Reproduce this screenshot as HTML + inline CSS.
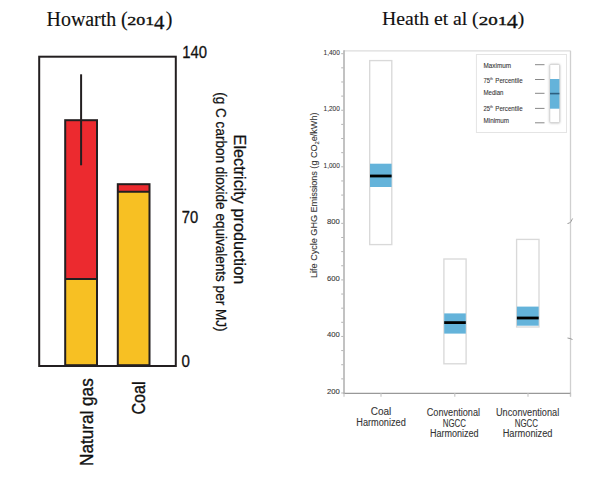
<!DOCTYPE html>
<html><head><meta charset="utf-8">
<style>
html,body{margin:0;padding:0;background:#fff;width:600px;height:482px;overflow:hidden;}
svg{display:block;}
.ser{font-family:"Liberation Serif",serif;}
.san{font-family:"Liberation Sans",sans-serif;}
</style></head>
<body>
<svg width="600" height="482" viewBox="0 0 600 482">
<!-- ===== LEFT CHART: Howarth ===== -->
<g class="ser" fill="#111" stroke="#111" stroke-width="0.15">
<text x="46.6" y="25.5" font-size="20" textLength="69.6" lengthAdjust="spacingAndGlyphs">Howarth</text>
<text x="120.9" y="25.5" font-size="20">(</text>
<text x="127.2" y="25.4" font-size="13" stroke-width="0.35" textLength="27" lengthAdjust="spacingAndGlyphs">201</text>
<text x="154.1" y="28.8" font-size="18.5" stroke-width="0.3" textLength="10.4" lengthAdjust="spacingAndGlyphs">4</text>
<text x="165.8" y="25.5" font-size="20">)</text>
</g>

<!-- bars -->
<rect x="65.2" y="279" width="31.8" height="86.6" fill="#f7c023"/>
<rect x="65.2" y="120.2" width="31.8" height="158.8" fill="#ec2a2f"/>
<rect x="117.8" y="191.7" width="31.7" height="173.9" fill="#f7c023"/>
<rect x="117.8" y="184.2" width="31.7" height="7.5" fill="#ec2a2f"/>
<g stroke="#231f20" stroke-width="2" fill="none">
  <rect x="65.2" y="120.2" width="31.8" height="245"/>
  <line x1="65.2" y1="279" x2="97" y2="279"/>
  <rect x="117.8" y="184.2" width="31.7" height="181"/>
  <line x1="117.8" y1="191.7" x2="149.5" y2="191.7"/>
  <line x1="81.1" y1="74.3" x2="81.1" y2="165.3"/>
  <rect x="39.2" y="56.7" width="136.6" height="309.3"/>
</g>
<!-- y labels -->
<g class="san" font-size="16.5" fill="#111" stroke="#111" stroke-width="0.3">
  <text x="182.3" y="57.6" textLength="24.8" lengthAdjust="spacingAndGlyphs">140</text>
  <text x="181.8" y="222.9" textLength="16.4" lengthAdjust="spacingAndGlyphs">70</text>
  <text x="181.6" y="367.4" textLength="8.4" lengthAdjust="spacingAndGlyphs">0</text>
</g>
<!-- rotated axis title -->
<g class="san" fill="#111" stroke="#111" stroke-width="0.25">
  <text transform="translate(233.7,134.6) rotate(90)" font-size="17" textLength="149.6" lengthAdjust="spacingAndGlyphs">Electricity production</text>
  <text transform="translate(215.9,92.3) rotate(90)" font-size="14" textLength="239.2" lengthAdjust="spacingAndGlyphs">(g C carbon dioxide equivalents per MJ)</text>
</g>
<!-- category labels -->
<g class="san" fill="#111" font-size="17.5" stroke="#111" stroke-width="0.35">
  <text transform="translate(93,465.9) rotate(-90)" textLength="87.6" lengthAdjust="spacingAndGlyphs">Natural gas</text>
  <text transform="translate(145,414.6) rotate(-90)" textLength="33.2" lengthAdjust="spacingAndGlyphs">Coal</text>
</g>

<!-- ===== RIGHT CHART: Heath ===== -->
<g class="ser" fill="#111" stroke="#111" stroke-width="0.15">
<text x="382" y="24.8" font-size="19.5" textLength="85.3" lengthAdjust="spacingAndGlyphs">Heath et al</text>
<text x="471.9" y="24.8" font-size="19.5">(</text>
<text x="478.8" y="24.7" font-size="13" stroke-width="0.35" textLength="28.4" lengthAdjust="spacingAndGlyphs">201</text>
<text x="506.8" y="27.9" font-size="18.5" stroke-width="0.3" textLength="11" lengthAdjust="spacingAndGlyphs">4</text>
<text x="517.7" y="24.8" font-size="19.5">)</text>
</g>

<!-- plot frame -->
<g fill="none">
  <line x1="344" y1="50.8" x2="570.5" y2="50.8" stroke="#dcdcdc" stroke-width="1.3"/>
  <line x1="570.5" y1="50.8" x2="570.5" y2="396.5" stroke="#d0d0d0" stroke-width="1.3"/>
  <line x1="344" y1="50.2" x2="344" y2="394" stroke="#a8a8a8" stroke-width="1.4"/>
  <line x1="343.3" y1="393.4" x2="571" y2="393.4" stroke="#999" stroke-width="1.3"/>
</g>

<!-- y ticks -->
<path d="M341.2 393.00H343.4M341.2 378.86H343.4M341.2 364.73H343.4M341.2 350.59H343.4M341.2 336.45H343.4M341.2 322.31H343.4M341.2 308.18H343.4M341.2 294.04H343.4M341.2 279.90H343.4M341.2 265.76H343.4M341.2 251.62H343.4M341.2 237.49H343.4M341.2 223.35H343.4M341.2 209.21H343.4M341.2 195.08H343.4M341.2 180.94H343.4M341.2 166.80H343.4M341.2 152.66H343.4M341.2 138.53H343.4M341.2 124.39H343.4M341.2 110.25H343.4M341.2 96.11H343.4M341.2 81.98H343.4M341.2 67.84H343.4M341.2 53.70H343.4" stroke="#b5b5b5" stroke-width="1" fill="none"/>
<path d="M381 393.3V396.8M454.8 393.3V396.8M528 393.3V396.8M570.5 393.3V396.8M344 393.3V396.8" stroke="#c8c8c8" stroke-width="1.2" fill="none"/>
<!-- break marks -->
<path d="M567.5 223.5 Q570 223.5 571 221.5 T572.6 218.5" stroke="#9a9a9a" stroke-width="1" fill="none"/>
<path d="M567.5 338 Q570 338.3 572.5 339.5" stroke="#9a9a9a" stroke-width="1" fill="none"/>
<!-- y labels -->
<g class="san" font-size="8" fill="#333" stroke="#444" stroke-width="0.1" text-anchor="end">
<text x="339.8" y="393.80" textLength="12.8" lengthAdjust="spacingAndGlyphs">200</text>
<text x="339.8" y="337.25" textLength="12.8" lengthAdjust="spacingAndGlyphs">400</text>
<text x="339.8" y="280.70" textLength="12.8" lengthAdjust="spacingAndGlyphs">600</text>
<text x="339.8" y="224.15" textLength="12.8" lengthAdjust="spacingAndGlyphs">800</text>
<text x="339.8" y="167.60" textLength="16.2" lengthAdjust="spacingAndGlyphs">1,000</text>
<text x="339.8" y="111.05" textLength="16.2" lengthAdjust="spacingAndGlyphs">1,200</text>
<text x="339.8" y="54.50" textLength="16.2" lengthAdjust="spacingAndGlyphs">1,400</text>
</g>
<!-- y title -->
<text class="san" transform="translate(316.5,278) rotate(-90)" font-size="9.5" fill="#333" stroke="#444" stroke-width="0.1" textLength="165.5" lengthAdjust="spacingAndGlyphs">Life Cycle GHG Emissions (g CO<tspan font-size="6" dy="2">2</tspan><tspan dy="-2">e/kWh)</tspan></text>
<!-- boxes -->
<g stroke="#d9d9d9" stroke-width="1.35" fill="#fff">
  <rect x="369.7" y="60.6" width="22.1" height="184"/>
  <rect x="443.9" y="259" width="22.2" height="104.8"/>
  <rect x="516.6" y="239.4" width="22.4" height="87.6"/>
</g>
<g fill="#64b3da">
  <rect x="370" y="163.7" width="21.6" height="23.3"/>
  <rect x="444.2" y="313.4" width="21.6" height="20.2"/>
  <rect x="516.9" y="306.6" width="21.8" height="19.1"/>
</g>
<g stroke="#000" stroke-width="2.8">
  <line x1="370" y1="176" x2="391.6" y2="176"/>
  <line x1="444.2" y1="322.6" x2="465.8" y2="322.6"/>
  <line x1="516.9" y1="318" x2="538.7" y2="318"/>
</g>
<!-- legend -->
<rect x="476.4" y="54.5" width="90.1" height="78" fill="#fff" stroke="#e4e4e4" stroke-width="1"/>
<g class="san" font-size="7" fill="#333" stroke="#444" stroke-width="0.1">
  <text x="483.5" y="67.6" textLength="27.5" lengthAdjust="spacingAndGlyphs">Maximum</text>
  <text x="483.5" y="82.6" textLength="6.6" lengthAdjust="spacingAndGlyphs">75</text><text x="490.1" y="79.6" font-size="4" textLength="2.8" lengthAdjust="spacingAndGlyphs">th</text><text x="495.3" y="82.6" textLength="27.3" lengthAdjust="spacingAndGlyphs">Percentile</text>
  <text x="483.5" y="95.1" textLength="20" lengthAdjust="spacingAndGlyphs">Median</text>
  <text x="483.5" y="110.6" textLength="6.6" lengthAdjust="spacingAndGlyphs">25</text><text x="490.1" y="107.6" font-size="4" textLength="2.8" lengthAdjust="spacingAndGlyphs">th</text><text x="495.3" y="110.6" textLength="27.3" lengthAdjust="spacingAndGlyphs">Percentile</text>
  <text x="483.5" y="123.1" textLength="25.5" lengthAdjust="spacingAndGlyphs">Minimum</text>
</g>
<path d="M535 64.7H544.5M535 79.5H544.5M535 93.3H544.5M535 108.4H544.5M535 122.8H544.5" stroke="#888" stroke-width="1"/>
<defs><filter id="sh" x="-50%" y="-20%" width="200%" height="140%"><feGaussianBlur stdDeviation="0.9"/></filter></defs>
<rect x="549.4" y="64.2" width="10.6" height="59" rx="1.5" fill="#bdbdbd" filter="url(#sh)"/>
<rect x="549.8" y="64.4" width="9.8" height="58.2" rx="1.2" fill="#fff" stroke="#cfcfcf" stroke-width="0.8"/>
<rect x="550" y="79" width="9.4" height="29.7" fill="#64b3da"/>
<line x1="550" y1="93.6" x2="559.4" y2="93.6" stroke="#2d5f80" stroke-width="1.6"/>
<!-- category labels -->
<g class="san" font-size="10" fill="#333" stroke="#444" stroke-width="0.1" text-anchor="middle">
  <text x="381" y="415.2">Coal</text>
  <text x="381" y="426.4" textLength="49.5" lengthAdjust="spacingAndGlyphs">Harmonized</text>
  <text x="453.4" y="415.5" textLength="53.3" lengthAdjust="spacingAndGlyphs">Conventional</text>
  <text x="454.3" y="426.7" textLength="23.2" lengthAdjust="spacingAndGlyphs">NGCC</text>
  <text x="454.3" y="437.4" textLength="48.7" lengthAdjust="spacingAndGlyphs">Harmonized</text>
  <text x="527.6" y="415.5" textLength="63.2" lengthAdjust="spacingAndGlyphs">Unconventional</text>
  <text x="526.4" y="426.7" textLength="23.4" lengthAdjust="spacingAndGlyphs">NGCC</text>
  <text x="527.6" y="437.4" textLength="49.8" lengthAdjust="spacingAndGlyphs">Harmonized</text>
</g>
</svg>
</body></html>
